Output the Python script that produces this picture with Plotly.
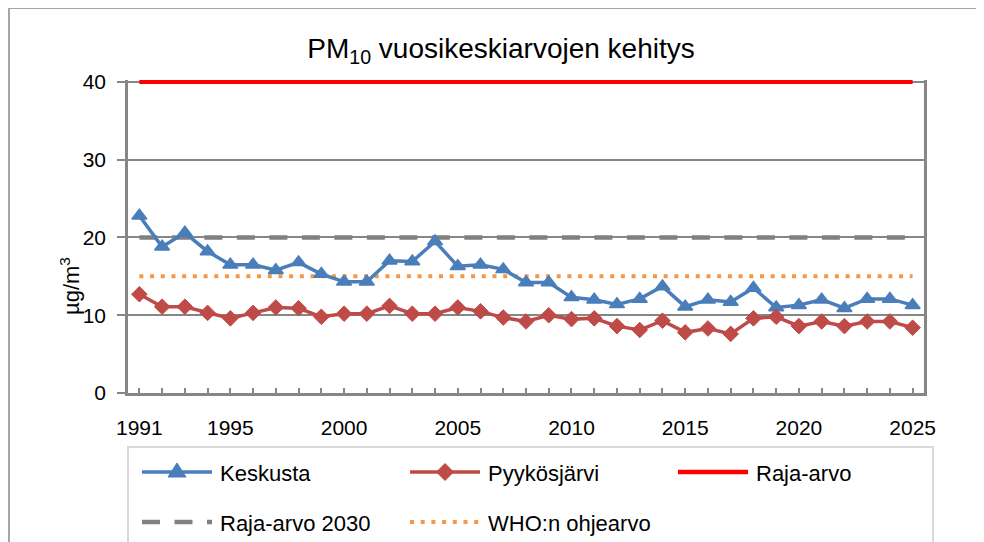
import plotly.graph_objects as go

years = list(range(1991, 2026))
keskusta = [22.8, 18.8, 20.6, 18.2, 16.5, 16.5, 15.8, 16.8, 15.3, 14.3,
            14.3, 17.0, 16.9, 19.5, 16.3, 16.5, 15.9, 14.2, 14.2, 12.3,
            12.0, 11.4, 12.1, 13.7, 11.1, 12.0, 11.7, 13.5, 11.0, 11.3,
            12.0, 10.9, 12.1, 12.1, 11.3]
pyykosjarvi = [12.7, 11.1, 11.1, 10.3, 9.6, 10.3, 11.0, 10.9, 9.8, 10.2,
               10.2, 11.2, 10.2, 10.2, 11.0, 10.5, 9.7, 9.2, 10.0, 9.5,
               9.6, 8.6, 8.1, 9.3, 7.8, 8.3, 7.6, 9.6, 9.8, 8.6,
               9.2, 8.6, 9.2, 9.2, 8.4]
raja_arvo = [40] * len(years)
raja_arvo_2030 = [20] * len(years)
who_ohjearvo = [15] * len(years)
labelled_years = [1991, 1995, 2000, 2005, 2010, 2015, 2020, 2025]
tick_text = [str(y) if y in labelled_years else "" for y in years]
y_ticks = [0, 10, 20, 30, 40]
series_names = ["Keskusta", "Pyykösjärvi", "Raja-arvo", "Raja-arvo 2030", "WHO:n ohjearvo"]

FONT = "Liberation Sans, Arial, sans-serif"
GRID = "#868686"
C_KESK = "#4A7EBB"
C_PYY = "#BE4B48"
C_RAJA = "#FF0000"
C_2030 = "#808080"
C_WHO = "#F79646"
DASH_2030 = "18px,14.5px"
DOT_WHO = "4px,6.7px"

# The page places the figure 8px from the window's top-left corner (body margin),
# so the figure is sized to fill the remaining window and targets are page pixels.
OFF = 8
W, H = 984 - OFF, 542 - OFF
PLOT_L, PLOT_R, PLOT_T, PLOT_B = 128, 924, 80, 393      # page pixels
L, R, T, B = PLOT_L - OFF, W - (PLOT_R - OFF), PLOT_T - OFF, H - (PLOT_B - OFF)
PW, PH = W - L - R, H - T - B
X0, X1 = 1990.5, 2025.5
Y0, Y1 = 0, 40.25


def px(x):
    """page pixel x -> paper fraction"""
    return (x - PLOT_L) / PW


def py(y):
    """page pixel y -> paper fraction"""
    return (PLOT_B - y) / PH


fig = go.Figure()
fig.add_trace(go.Scatter(x=years, y=raja_arvo, name=series_names[2], mode="lines",
                         line=dict(color=C_RAJA, width=4)))
fig.add_trace(go.Scatter(x=years, y=raja_arvo_2030, name=series_names[3], mode="lines",
                         line=dict(color=C_2030, width=4.5, dash=DASH_2030)))
fig.add_trace(go.Scatter(x=years, y=who_ohjearvo, name=series_names[4], mode="lines",
                         line=dict(color=C_WHO, width=4, dash=DOT_WHO)))
fig.add_trace(go.Scatter(x=years, y=keskusta, name=series_names[0], mode="lines+markers",
                         line=dict(color=C_KESK, width=3.5),
                         marker=dict(symbol="triangle-up", size=13, color=C_KESK,
                                     line=dict(color=C_KESK, width=1.5)),
                         cliponaxis=False))
fig.add_trace(go.Scatter(x=years, y=pyykosjarvi, name=series_names[1], mode="lines+markers",
                         line=dict(color=C_PYY, width=3.5),
                         marker=dict(symbol="diamond", size=12, color=C_PYY,
                                     line=dict(color=C_PYY, width=1)),
                         cliponaxis=False))

# ---- legend (drawn manually to match the reference's long legend keys) ----
TRI = "M-9,-5 L9,-5 L0,9 Z"
DIA = "M-8.5,0 L0,8.5 L8.5,0 L0,-8.5 Z"
legend_items = [
    # name, key x-start px, row y px, color, dash, width, glyph path
    (series_names[0], 142, 472, C_KESK, "solid", 3.5, TRI),
    (series_names[1], 410, 472, C_PYY, "solid", 3.5, DIA),
    (series_names[2], 678, 472, C_RAJA, "solid", 4.5, None),
    (series_names[3], 142, 522, C_2030, DASH_2030, 4.5, None),
    (series_names[4], 410, 522, C_WHO, DOT_WHO, 4, None),
]
KEY_LEN = 70
shapes = [
    dict(type="rect", xref="paper", yref="paper", x0=px(OFF + 1), x1=px(1010),
         y0=py(570), y1=py(OFF), line=dict(color="#A6A6A6", width=2), layer="below"),
    dict(type="rect", xref="paper", yref="paper", x0=px(128), x1=px(933),
         y0=py(570), y1=py(447), line=dict(color="#D9D9D9", width=2), layer="below"),
]
annotations = [dict(text="µg/m<sup>3</sup>", textangle=-90, x=px(70), y=py(286),
                    xref="paper", yref="paper", showarrow=False,
                    xanchor="center", yanchor="middle",
                    font=dict(family=FONT, size=22, color="#000"))]
for name, kx, ky, col, dash, lw, glyph in legend_items:
    shapes.append(dict(type="line", xref="paper", yref="paper",
                       x0=px(kx), x1=px(kx + KEY_LEN), y0=py(ky), y1=py(ky),
                       line=dict(color=col, width=lw, dash=dash), layer="above"))
    if glyph:
        shapes.append(dict(type="path", xref="paper", yref="paper",
                           xsizemode="pixel", ysizemode="pixel",
                           xanchor=px(kx + KEY_LEN / 2), yanchor=py(ky),
                           path=glyph, fillcolor=col, line=dict(color=col, width=1),
                           layer="above"))
    annotations.append(dict(text=name, x=px(kx + KEY_LEN + 6), y=py(ky + 1),
                            xref="paper", yref="paper", showarrow=False,
                            xanchor="left", yanchor="middle",
                            font=dict(family=FONT, size=22, color="#000")))

fig.update_layout(
    width=W, height=H,
    margin=dict(l=L, r=R, t=T, b=B, autoexpand=False),
    paper_bgcolor="white", plot_bgcolor="white",
    font=dict(family=FONT, color="#000"),
    showlegend=False,
    title=dict(text="PM<sub>10</sub> vuosikeskiarvojen kehitys",
               font=dict(family=FONT, size=28, color="#000"),
               x=(501 - OFF) / W, xref="container", xanchor="center",
               y=1 - (48 - OFF) / H, yref="container", yanchor="middle"),
    xaxis=dict(range=[X0, X1], tickmode="array", tickvals=years,
               ticktext=tick_text, ticks="inside", ticklen=5, tickwidth=2,
               tickcolor=GRID, showline=True, linecolor=GRID, linewidth=2.5,
               showgrid=False, zeroline=False, ticklabelstandoff=14, automargin=False,
               tickfont=dict(family=FONT, size=21, color="#000")),
    yaxis=dict(range=[Y0, Y1], tickmode="array", tickvals=y_ticks,
               ticks="outside", ticklen=8, tickwidth=2, tickcolor=GRID,
               showline=True, linecolor=GRID, linewidth=2.5, mirror=True,
               showgrid=True, gridcolor=GRID, gridwidth=2, zeroline=False,
               ticklabelstandoff=7, automargin=False,
               tickfont=dict(family=FONT, size=21, color="#000")),
    annotations=annotations,
    shapes=shapes,
)

fig.write_html("out.html")
